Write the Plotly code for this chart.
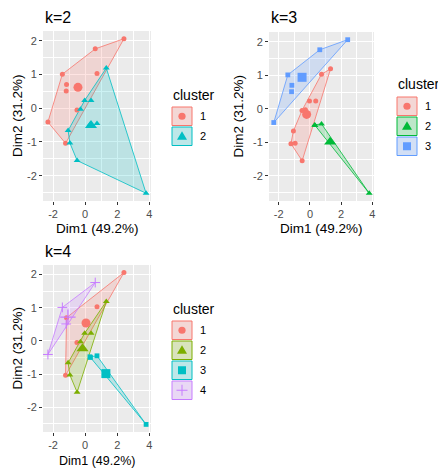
import plotly.graph_objects as go

W, H = 438, 468

# Principal-component coordinates of the observations
dim1 = [2.42, 0.63, 1.32, 0.74, -1.42, -1.16, -1.18, -0.03, 0.37, -0.29,
        -0.51, -2.32, -1.06, -1.22, -0.95, -0.50, 0.30, 0.33, 0.74, 3.80]
dim2 = [2.06, 1.76, 1.19, 1.03, 1.01, 0.70, 0.51, 0.23, 0.23, -0.03,
        -0.05, -0.41, -0.66, -1.04, -1.03, -1.55, -0.48, -0.50, -0.45, -2.52]

# k-means cluster assignments for k = 2, 3, 4
cluster_k2 = [1, 1, 2, 1, 1, 1, 1, 2, 2, 2, 1, 1, 2, 1, 2, 2, 2, 2, 2, 2]
cluster_k3 = [3, 3, 1, 1, 3, 3, 3, 1, 1, 1, 1, 3, 1, 1, 1, 1, 2, 2, 2, 2]
cluster_k4 = [1, 4, 2, 1, 4, 1, 4, 2, 2, 2, 1, 4, 2, 1, 2, 2, 3, 3, 3, 3]

x_label = "Dim1 (49.2%)"
y_label = "Dim2 (31.2%)"
x_ticks = [-2, 0, 2, 4]
y_ticks = [-2, -1, 0, 1, 2]

palettes = {
    2: ["#F8766D", "#00BFC4"],
    3: ["#F8766D", "#00BA38", "#619CFF"],
    4: ["#F8766D", "#7CAE00", "#00BFC4", "#C77CFF"],
}
symbols = ["circle", "triangle-up", "square", "cross-thin"]
pt_size = {"circle": 5, "triangle-up": 6, "square": 4.8, "cross-thin": 7}
ctr_size = {"circle": 9, "triangle-up": 10.5, "square": 9, "cross-thin": 11}

FONT = "Liberation Sans, Arial, sans-serif"


def rgba(hex_color, a):
    h = hex_color.lstrip("#")
    r, g, b = int(h[0:2], 16), int(h[2:4], 16), int(h[4:6], 16)
    return f"rgba({r},{g},{b},{a})"


def blend(hex_color, a, bg=(242, 242, 242)):
    h = hex_color.lstrip("#")
    c = [int(h[i:i + 2], 16) for i in (0, 2, 4)]
    m = [round(a * c[i] + (1 - a) * bg[i]) for i in range(3)]
    return f"rgb({m[0]},{m[1]},{m[2]})"


def convex_hull(points):
    pts = sorted(set(points))
    if len(pts) <= 2:
        return pts

    def cross(o, a, b):
        return (a[0] - o[0]) * (b[1] - o[1]) - (a[1] - o[1]) * (b[0] - o[0])

    lower, upper = [], []
    for p in pts:
        while len(lower) >= 2 and cross(lower[-2], lower[-1], p) <= 0:
            lower.pop()
        lower.append(p)
    for p in reversed(pts):
        while len(upper) >= 2 and cross(upper[-2], upper[-1], p) <= 0:
            upper.pop()
        upper.append(p)
    return lower[:-1] + upper[:-1]


def px(x, y):
    """pixel position -> paper coordinates"""
    return x / W, 1 - y / H


# shared data range with ggplot-style 5% expansion
def expanded(v):
    lo, hi = min(v), max(v)
    pad = 0.05 * (hi - lo)
    return [lo - pad, hi + pad]


x_range = expanded(dim1)
y_range = expanded(dim2)

panels = [
    dict(k=2, labels=cluster_k2, box=(43, 31, 151, 201), title=(43, 18),
         ytitle_x=17, xtitle_y=228, xtitle_size=13.5, legend=(172, 95, 107)),
    dict(k=3, labels=cluster_k3, box=(269, 32, 374, 201), title=(269, 18),
         ytitle_x=238, xtitle_y=228, xtitle_size=13.5, legend=(397, 84, 97)),
    dict(k=4, labels=cluster_k4, box=(43, 265, 151, 432), title=(43, 251),
         ytitle_x=17, xtitle_y=460.5, xtitle_size=12.5, legend=(172, 309, 321)),
]

fig = go.Figure()
layout = dict(
    width=W, height=H,
    margin=dict(l=0, r=0, t=0, b=0),
    paper_bgcolor="white",
    plot_bgcolor="#EBEBEB",
    showlegend=False,
    font=dict(family=FONT, color="black"),
)
annotations = []
shapes = []

for i, p in enumerate(panels, start=1):
    suffix = "" if i == 1 else str(i)
    xa, ya = f"x{suffix}", f"y{suffix}"
    x0, y0, x1, y1 = p["box"]
    dx0, dy1 = px(x0, y0)
    dx1, dy0 = px(x1, y1)
    k = p["k"]
    cols = palettes[k]

    layout[f"xaxis{suffix}"] = dict(
        domain=[dx0, dx1], anchor=ya, range=x_range,
        tickvals=x_ticks, ticktext=[f"{t}" if t >= 0 else f"-{abs(t)}" for t in x_ticks],
        showgrid=True, gridcolor="white", gridwidth=1.1, zeroline=False,
        ticks="outside", ticklen=3, tickwidth=1, tickcolor="#333333",
        tickfont=dict(size=11, color="#4D4D4D", family=FONT),
        minor=dict(tickvals=[-1, 1, 3], showgrid=True, gridcolor="white",
                   gridwidth=0.5, ticks=""),
        showline=False, fixedrange=True,
    )
    layout[f"yaxis{suffix}"] = dict(
        domain=[dy0, dy1], anchor=xa, range=y_range,
        tickvals=y_ticks, ticktext=[f"{t}" if t >= 0 else f"-{abs(t)}" for t in y_ticks],
        showgrid=True, gridcolor="white", gridwidth=1.1, zeroline=False,
        ticks="outside", ticklen=3, tickwidth=1, tickcolor="#333333",
        tickfont=dict(size=11, color="#4D4D4D", family=FONT),
        minor=dict(tickvals=[-2.5, -1.5, -0.5, 0.5, 1.5], showgrid=True,
                   gridcolor="white", gridwidth=0.5, ticks=""),
        showline=False, fixedrange=True,
    )

    # convex hulls of each cluster
    for c in range(1, k + 1):
        pts = [(x, y) for x, y, l in zip(dim1, dim2, p["labels"]) if l == c]
        hx = convex_hull(pts)
        fig.add_trace(go.Scatter(
            x=[q[0] for q in hx] + [hx[0][0]], y=[q[1] for q in hx] + [hx[0][1]],
            mode="lines", fill="toself", fillcolor=rgba(cols[c - 1], 0.2),
            line=dict(color=cols[c - 1], width=0.8), xaxis=xa, yaxis=ya,
            hoverinfo="skip",
        ))
    # observations and cluster centres
    for c in range(1, k + 1):
        xs = [x for x, l in zip(dim1, p["labels"]) if l == c]
        ys = [y for y, l in zip(dim2, p["labels"]) if l == c]
        sym = symbols[c - 1]
        col = cols[c - 1]
        is_cross = sym == "cross-thin"
        mk = dict(symbol=sym, size=pt_size[sym], color=col,
                  line=dict(width=1 if is_cross else 0, color=col))
        fig.add_trace(go.Scatter(x=xs, y=ys, mode="markers", marker=mk,
                                 xaxis=xa, yaxis=ya, name=str(c)))
        mc = dict(symbol=sym, size=ctr_size[sym], color=col,
                  line=dict(width=1.2 if is_cross else 0, color=col))
        fig.add_trace(go.Scatter(x=[sum(xs) / len(xs)], y=[sum(ys) / len(ys)],
                                 mode="markers", marker=mc, xaxis=xa, yaxis=ya,
                                 hoverinfo="skip"))

    # panel title and axis titles
    tx, ty = px(*p["title"])
    annotations.append(dict(text=f"k={k}", x=tx, y=ty, xref="paper", yref="paper",
                            xanchor="left", yanchor="middle", showarrow=False,
                            font=dict(size=16, color="black", family=FONT)))
    ax_, ay_ = px((x0 + x1) / 2, p["xtitle_y"])
    annotations.append(dict(text=x_label, x=ax_, y=ay_, xref="paper", yref="paper",
                            xanchor="center", yanchor="middle", showarrow=False,
                            font=dict(size=p["xtitle_size"], color="black", family=FONT)))
    bx_, by_ = px(p["ytitle_x"], (y0 + y1) / 2)
    annotations.append(dict(text=y_label, x=bx_, y=by_, xref="paper", yref="paper",
                            xanchor="center", yanchor="middle", textangle=-90,
                            showarrow=False,
                            font=dict(size=13.5, color="black", family=FONT)))

    # legend
    lx, lty, lby = p["legend"]
    tlx, tly = px(lx - 1, lty)
    annotations.append(dict(text="cluster", x=tlx, y=tly, xref="paper", yref="paper",
                            xanchor="left", yanchor="middle", showarrow=False,
                            font=dict(size=14, color="black", family=FONT)))
    kw, kh, step = 20, 18.5, 20
    for c in range(1, k + 1):
        col = cols[c - 1]
        top = lby + (c - 1) * step
        ax0, ay1 = px(lx, top)
        ax1, ay0 = px(lx + kw, top + kh)
        shapes.append(dict(type="rect", xref="paper", yref="paper",
                           x0=ax0, x1=ax1, y0=ay0, y1=ay1,
                           fillcolor=blend(col, 0.22), line=dict(color=col, width=1)))
        cx, cy = lx + kw / 2, top + kh / 2
        sym = symbols[c - 1]
        if sym == "circle":
            r = 3.6
            a0, b1 = px(cx - r, cy - r)
            a1, b0 = px(cx + r, cy + r)
            shapes.append(dict(type="circle", xref="paper", yref="paper",
                               x0=a0, x1=a1, y0=b0, y1=b1, fillcolor=col,
                               line=dict(width=0)))
        elif sym == "triangle-up":
            pts = [px(cx - 5, cy + 3.5), px(cx + 5, cy + 3.5), px(cx, cy - 5)]
            path = "M {} {} L {} {} L {} {} Z".format(*[v for q in pts for v in q])
            shapes.append(dict(type="path", xref="paper", yref="paper", path=path,
                               fillcolor=col, line=dict(width=0)))
        elif sym == "square":
            a0, b1 = px(cx - 4, cy - 4)
            a1, b0 = px(cx + 4, cy + 4)
            shapes.append(dict(type="rect", xref="paper", yref="paper",
                               x0=a0, x1=a1, y0=b0, y1=b1, fillcolor=col,
                               line=dict(width=0)))
        else:
            q = [px(cx - 5.5, cy), px(cx + 5.5, cy), px(cx, cy - 5.5), px(cx, cy + 5.5)]
            path = "M {} {} L {} {} M {} {} L {} {}".format(*[v for t in q for v in t])
            shapes.append(dict(type="path", xref="paper", yref="paper", path=path,
                               line=dict(color=col, width=1)))
        nlx, nly = px(lx + 31, cy)
        annotations.append(dict(text=str(c), x=nlx, y=nly, xref="paper", yref="paper",
                                xanchor="center", yanchor="middle", showarrow=False,
                                font=dict(size=11, color="black", family=FONT)))

layout["annotations"] = annotations
layout["shapes"] = shapes
fig.update_layout(**layout)
fig.write_html("out.html")
